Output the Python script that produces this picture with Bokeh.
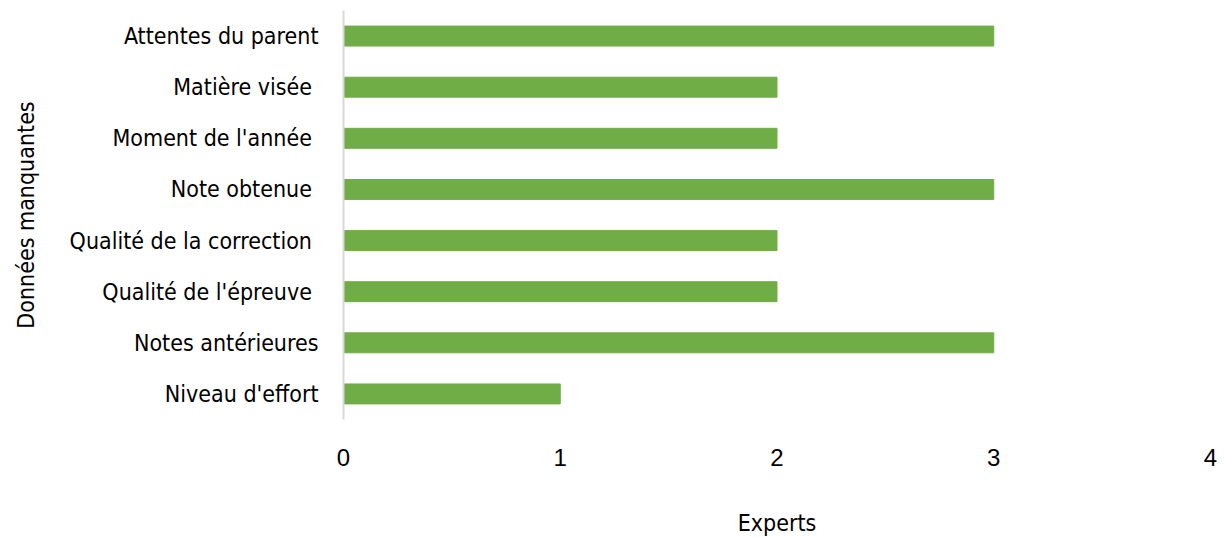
from bokeh.plotting import figure
from bokeh.models import FactorRange, Range1d, FixedTicker
from bokeh.embed import file_html
from bokeh.resources import INLINE

categories = ["Attentes du parent", "Matière visée ", "Moment de l'année ", "Note obtenue ",
              "Qualité de la correction ", "Qualité de l'épreuve ", "Notes antérieures", "Niveau d'effort"]
values = [3, 2, 2, 3, 2, 2, 3, 1]
x_ticks = [0, 1, 2, 3, 4]
x_title = "Experts"
y_title = "Données manquantes"

LABEL_FONT = "DejaVu Sans Condensed"

p = figure(width=1224, height=538, output_backend="svg", toolbar_location=None,
           y_range=FactorRange(factors=list(reversed(categories)), range_padding=0),
           x_range=Range1d(0, 4),
           min_border_left=343, min_border_right=14, min_border_top=10, min_border_bottom=118)

p.hbar(y=categories, right=values, left=0, height=0.39, color="#70AD47")

p.outline_line_color = None
p.xgrid.grid_line_color = None
p.ygrid.grid_line_color = None

p.xaxis.ticker = FixedTicker(ticks=x_ticks)
p.xaxis.axis_line_color = None
p.xaxis.major_tick_line_color = None
p.xaxis.minor_tick_line_color = None
p.xaxis.major_label_text_font = "Liberation Sans"
p.xaxis.major_label_text_font_size = "24px"
p.xaxis.major_label_text_color = "#000000"
p.xaxis.major_label_standoff = 23
p.xaxis.axis_label = x_title
p.xaxis.axis_label_text_font = LABEL_FONT
p.xaxis.axis_label_text_font_size = "23px"
p.xaxis.axis_label_text_font_style = "normal"
p.xaxis.axis_label_text_color = "#000000"
p.xaxis.axis_label_standoff = 41

p.yaxis.axis_line_color = "#D9D9D9"
p.yaxis.axis_line_width = 2
p.yaxis.major_tick_line_color = None
p.yaxis.minor_tick_line_color = None
p.yaxis.major_label_text_font = LABEL_FONT
p.yaxis.major_label_text_font_size = "23px"
p.yaxis.major_label_text_color = "#000000"
p.yaxis.major_label_standoff = 19
p.yaxis.axis_label = y_title
p.yaxis.axis_label_text_font = LABEL_FONT
p.yaxis.axis_label_text_font_size = "23px"
p.yaxis.axis_label_text_font_style = "normal"
p.yaxis.axis_label_text_color = "#000000"
p.yaxis.axis_label_standoff = 28

open("out.html", "w").write(file_html(p, INLINE))
